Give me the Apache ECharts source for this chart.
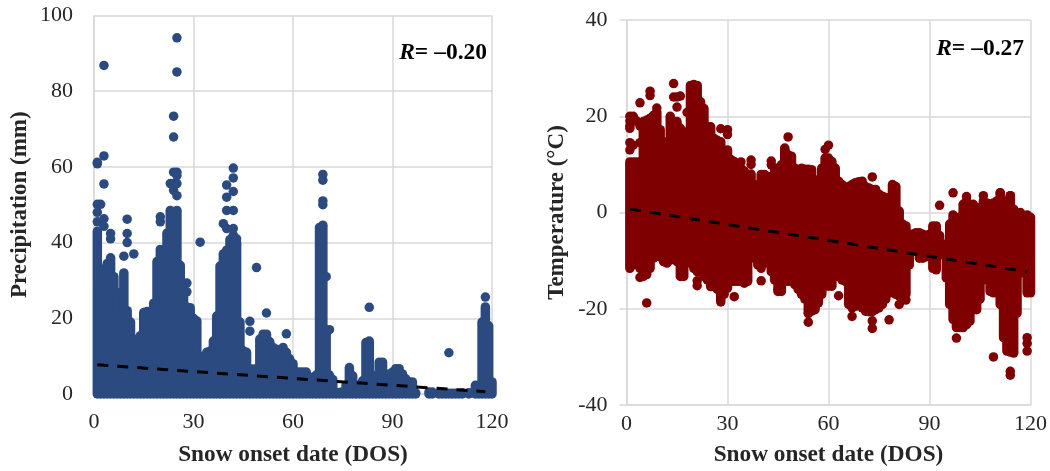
<!DOCTYPE html>
<html><head><meta charset="utf-8">
<script src="https://cdn.jsdelivr.net/npm/echarts@6/dist/echarts.min.js"></script>
<style>html,body{margin:0;padding:0;background:#fff}#c{width:1050px;height:471px}</style>
</head><body><div id="c"></div>
<script>
const xTicks = [0, 30, 60, 90, 120];
// Daily upper edge of the solid precipitation mass (mm), days 1..120; all reach 0 at the bottom
const precipHigh = [43,29,33,34.5,36,31,26.8,21.5,32,22,19,14.5,14,15.4,21.5,21.8,19.8,24,35,38.2,
 25.8,42.5,48,48,48,34,29,23,22.8,20,19.3,10,8.2,11,11.3,14,20.6,33.8,37,38,
 40.8,42,40,19,11.4,11,6.6,6.6,6.6,14.5,15.8,15.8,13.8,12.3,11.8,11.4,12.3,11,9.3,8,
 5.8,5.8,5.8,5.8,4,4.4,5,44,44,17,5,3.8,0.2,0.4,0.6,2.3,7,4.8,2.3,2.3,
 3.5,13.6,14,4.8,4.8,8.4,8.4,4.8,5.3,5.8,6.7,6.7,5.3,4,3.2,3.2,0.3,0,0,0,
 0.5,0.5,0,0.2,0.2,0.3,0.2,0.2,0.2,0.2,0.3,0,0.3,0,2.3,2.3,19,23,18,3.2];
// Isolated precipitation points [day, mm]
const precipPoints = [[3,86.8],[25,94.1],[25,85.1],[24,73.4],[24,67.9],[3,62.9],[1,61.2],[1,60.8],[3,55.5],
 [1,50.1],[2,50.1],[1,48],[3,46.3],[1,45.5],[3,44.3],[10,46.2],[10,42.4],[10,40],[5,42.4],[5,41],[20,46.8],[20,45.5],
 [24,58.6],[25,58.6],[25,57.7],[23,55.6],[24,55.6],[25,55.6],[24,53.8],[25,52.4],[23,48.5],[25,48.5],
 [42,59.7],[42,57.1],[40,55.2],[42,53.5],[40,52],[40,48.5],[42,48.5],[39,45],[40,43.7],[42,43.7],[43,41],
 [32,40.1],[49,33.4],[9,36.4],[12,37],[28,29.3],[28,27],[52,21.4],[47,19.2],[47,16.6],[58,15.9],[83,22.9],[107,10.9],[118,25.6],
 [69,58],[69,56.5],[69,51],[69,50],[69,44.6],[70,31],[71,17]];
const precipTrendDays = [1, 118];
const precipTrend = [7.7, 0.6];
// Daily range of the solid temperature mass (deg C), days 1..120
const tempHigh = [10.5,10.5,10.5,10.5,18.9,19.2,19.6,20.2,20.9,17.2,14.7,12.7,19.6,18.5,18.9,17.5,16.8,15.4,26.4,26.6,
 26.4,23,21.6,17.8,17.8,15.4,15,14.7,12,13,11,10.6,7.9,9.2,8.6,7.9,8,5.8,4.4,7.9,
 7.9,7.5,7.5,9.2,9.2,9.9,13.4,12,11.7,9.2,7.9,9.2,9,9,8.9,6.5,6.8,9.2,11.3,11.3,
 10.6,9.2,6.5,5.8,5.1,5.4,5.8,6.2,6.4,6.5,5.4,5.1,4.8,4.8,3.8,3.4,3.1,2.4,5.8,5.4,
 0.3,-2.4,-2.8,-4.5,-4.5,-4.2,-4.2,-4.5,-4.8,-4.5,-2.8,-2.8,-4.8,-6.6,-6.6,-2.4,-1,-2.4,-1,1.7,
 2.4,1.4,1.7,1,1,2.4,2,1.7,2,2.4,4.1,2,2.4,3.5,0.7,-0.4,0,-1,-0.5,-1];
const tempLow = [-11.6,-10.9,-10.2,-11.6,-13.3,-12.9,-11.6,-9.5,-8,-9.2,-10.2,-10.5,-9.9,-9.5,-10.2,-13.3,-13.3,-9.5,-10.5,-11.6,
 -12.3,-12.3,-13.3,-14,-15.4,-15.4,-16,-18.6,-17,-15.7,-14.3,-14.3,-14.3,-14.3,-14.7,-14.3,-9.5,-9.2,-10.9,-11.6,
 -10.5,-9.5,-12.3,-14,-16.4,-16.4,-14.3,-14.3,-14.3,-15,-16,-17,-18,-20.8,-20.5,-20.2,-18.8,-17,-15.3,-15.3,
 -15.3,-13.3,-13.3,-14,-14.3,-19.1,-19.8,-19.5,-18.8,-19.8,-20.5,-20.6,-20.6,-20.2,-19.8,-19.1,-18,-16.7,-16.7,-17,
 -17.4,-16.7,-17,-10.9,-8.1,-7.8,-9.5,-9.5,-9.2,-8.8,-11.6,-11.9,-8.5,-8.8,-13.6,-19.1,-22.2,-23.9,-23.9,-23.9,
 -23.3,-22.6,-20.2,-20.2,-18,-14,-12.3,-16.4,-16.7,-16.4,-19.1,-26,-28.8,-29,-29,-20.9,-12.6,-9.5,-16.7,-16.7];
// Isolated temperature points [day, deg C]
const tempPoints = [[1,20],[1,19],[1,18],[1,17.5],[1,14.5],[1,13],[2,20],[2,19],[2,14],[3,19],[4,18],[4,14.5],[4,22.8],[7,25.2],[7,24.3],[9,21.7],[13,20],[15,21.9],[14,26.8],[14,24],[16,24.2],[15,24],[18,20.8],[34,10.5],[37,10.9],[37,10],[43,10.7],[43,9.9],[30,17.2],[30,16.2],[28,17.4],
 [48,15.7],[47,13.1],[59,13.1],[60,14],[73,7.4],[93,1.5],[97,4.1],[97,-0.5],[101,3.3],[106,3.5],[111,4.1],[114,3.5],
 [6,-18.8],[4,-13.5],[21,-14.2],[21,-15.2],[32,-17.5],[40,-14.2],[45,-16.1],[54,-22.8],[54,-21],[63,-17.3],[67,-21.6],[73,-22.5],[73,-24.1],[78,-22.3],[81,-19.1],[83,-18.2],
 [98,-26.1],[109,-30],[114,-33],[114,-33.8],[115,-29.2],[119,-26],[119,-27.2],[119,-28.8]];
const tempTrendDays = [1, 119];
const tempTrend = [0.7, -12.3];

const precipRows = precipHigh.map((h, i) => [i + 1, 0, h]);
const tempRows = tempHigh.map((h, i) => [i + 1, tempLow[i], h]);

const SERIF = '"Liberation Serif","Times New Roman",serif';
const GRID = '#d9d9d9', INK = '#262626';
const BLUE = '#2a4a80', RED = '#7f0000';
const DOT = 9.5;

function band(color, gridIndex, rows) {
  return {
    type: 'custom', xAxisIndex: gridIndex, yAxisIndex: gridIndex, data: rows, clip: false,
    encode: { x: 0, y: [1, 2] }, silent: true,
    renderItem(params, api) {
      const a = api.coord([api.value(0), api.value(1)]);
      const b = api.coord([api.value(0), api.value(2)]);
      return { type: 'line', shape: { x1: a[0], y1: a[1], x2: b[0], y2: b[1] },
        style: { stroke: color, lineWidth: DOT, lineCap: 'round' } };
    }
  };
}
function dots(color, gridIndex, pts) {
  return { type: 'scatter', xAxisIndex: gridIndex, yAxisIndex: gridIndex, data: pts, symbolSize: DOT,
    itemStyle: { color, opacity: 1 }, silent: true, clip: false };
}
function trend(gridIndex, days, vals) {
  return { type: 'line', xAxisIndex: gridIndex, yAxisIndex: gridIndex, data: days.map((d, i) => [d, vals[i]]),
    symbol: 'none', silent: true, z: 10, lineStyle: { color: '#000', width: 3, type: [11, 9] } };
}
function xAx(gridIndex, margin, gap) {
  return { type: 'value', gridIndex, min: 0, max: 120, interval: 30,
    name: 'Snow onset date (DOS)', nameLocation: 'middle', nameGap: gap,
    nameTextStyle: { fontFamily: SERIF, fontWeight: 'bold', fontSize: 23.3, color: INK },
    axisLine: { onZero: false, show: true, lineStyle: { color: GRID, width: 1.5 } }, axisTick: { show: false },
    axisLabel: { fontFamily: SERIF, fontSize: 22, color: INK, margin, formatter: v => xTicks.includes(v) ? String(v) : '' },
    splitLine: { show: true, lineStyle: { color: GRID, width: 1.5 } } };
}
function yAx(gridIndex, min, max, interval, name, gap, ticks) {
  return { type: 'value', gridIndex, min, max, interval,
    name, nameLocation: 'middle', nameGap: gap,
    nameTextStyle: { fontFamily: SERIF, fontWeight: 'bold', fontSize: 23, color: INK },
    axisLine: { show: true, onZero: false, lineStyle: { color: GRID, width: 1.5 } },
    axisTick: { show: ticks, length: 7, lineStyle: { color: GRID, width: 1.5 } },
    axisLabel: { fontFamily: SERIF, fontSize: 22, color: INK, margin: ticks ? 19 : 21 },
    splitLine: { show: true, lineStyle: { color: GRID, width: 1.5 } } };
}
function rText(text, right, top) {
  return { text: '{i|R}{b|= \u20130.' + text + '}', right, top, padding: 0,
    textStyle: { rich: {
      i: { fontFamily: SERIF, fontWeight: 'bold', fontStyle: 'italic', fontSize: 23.5, color: '#000' },
      b: { fontFamily: SERIF, fontWeight: 'bold', fontSize: 23.5, color: '#000' } } } };
}

const chart = echarts.init(document.getElementById('c'), null, { renderer: 'canvas' });
chart.setOption({
  animation: false, backgroundColor: '#fff',
  title: [rText('20', 563, 41), rText('27', 26, 37)],
  grid: [{ left: 94, top: 15.5, width: 398, height: 381 }, { left: 626.5, top: 20, width: 404, height: 387 }],
  xAxis: [xAx(0, 17, 49), xAx(1, 8, 38)],
  yAxis: [yAx(0, 0, 100, 20, 'Precipitation (mm)', 62, false), yAx(1, -40, 40, 20, 'Temperature (\u00b0C)', 58, true)],
  series: [
    band(BLUE, 0, precipRows), dots(BLUE, 0, precipPoints), trend(0, precipTrendDays, precipTrend),
    band(RED, 1, tempRows), dots(RED, 1, tempPoints), trend(1, tempTrendDays, tempTrend)
  ]
});
</script></body></html>
